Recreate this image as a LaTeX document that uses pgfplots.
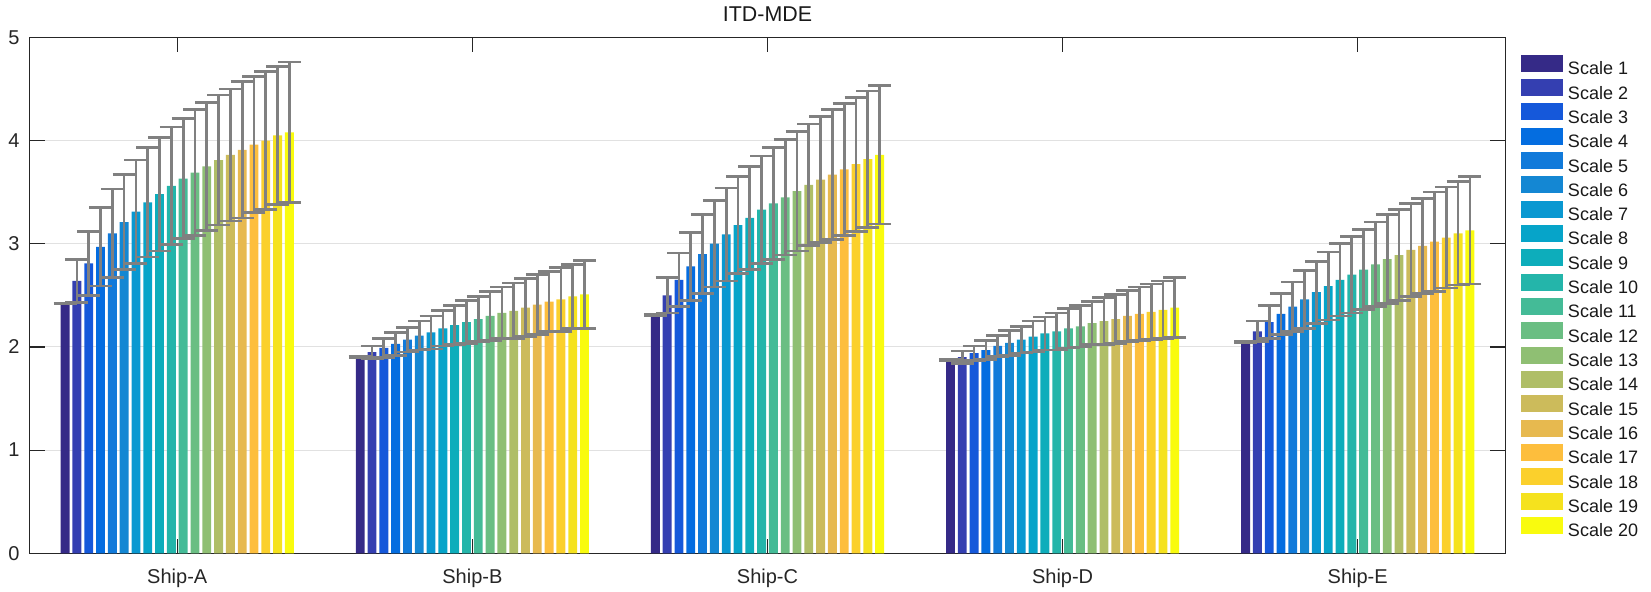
\documentclass[border=0pt]{standalone}
\usepackage{fontspec}
\setmainfont{Liberation Sans}
\usepackage{pgfplots}
\pgfplotsset{compat=1.18}
\definecolor{c1}{rgb}{0.2081,0.1663,0.5292}
\definecolor{c2}{rgb}{0.2042,0.2468,0.6931}
\definecolor{c3}{rgb}{0.0835,0.3467,0.8543}
\definecolor{c4}{rgb}{0.0159,0.4256,0.8788}
\definecolor{c5}{rgb}{0.0654,0.4776,0.8531}
\definecolor{c6}{rgb}{0.0768,0.5301,0.8284}
\definecolor{c7}{rgb}{0.0358,0.5946,0.8202}
\definecolor{c8}{rgb}{0.0230,0.6443,0.7882}
\definecolor{c9}{rgb}{0.0492,0.6793,0.7340}
\definecolor{c10}{rgb}{0.1402,0.7085,0.6680}
\definecolor{c11}{rgb}{0.2655,0.7326,0.5916}
\definecolor{c12}{rgb}{0.4174,0.7469,0.5144}
\definecolor{c13}{rgb}{0.5623,0.7486,0.4529}
\definecolor{c14}{rgb}{0.6871,0.7432,0.4029}
\definecolor{c15}{rgb}{0.7996,0.7344,0.3576}
\definecolor{c16}{rgb}{0.9056,0.7262,0.3104}
\definecolor{c17}{rgb}{0.9941,0.7465,0.2390}
\definecolor{c18}{rgb}{0.9847,0.8141,0.1735}
\definecolor{c19}{rgb}{0.9601,0.8872,0.1188}
\definecolor{c20}{rgb}{0.9763,0.9831,0.0538}
\definecolor{errc}{RGB}{128,128,128}
\definecolor{axc}{RGB}{38,38,38}
\definecolor{gridc}{RGB}{225,225,225}
\pgfplotsset{
  errstyle/.style={forget plot, draw=none, fill=none, mark=none,
    error bars/.cd, y dir=both, y explicit,
    error bar style={draw=errc, line width=1.35pt},
    error mark options={draw=errc, rotate=90, line width=1.35pt, mark size=5.75pt}},
}
\begin{document}
\begin{tikzpicture}
\begin{axis}[
  at={(0,0)}, anchor=south west,
  scale only axis, width=737.8pt, height=258pt,
  ybar, bar width=0.03, bar shift=0pt,
  xmin=0.5, xmax=5.5, ymin=0, ymax=5,
  xtick={1,2,3,4,5}, xticklabels={Ship-A,Ship-B,Ship-C,Ship-D,Ship-E},
  ytick={0,1,2,3,4,5},
  xtick pos=both, ytick pos=both,
  xticklabel pos=lower, yticklabel pos=left,
  tick align=inside, major tick length=7.4pt,
  tick style={line width=0.6pt, color=axc},
  axis line style={line width=0.6pt, color=axc},
  ymajorgrids, grid style={line width=0.5pt, color=gridc},
  /pgf/number format/assume math mode=true,
  tick label style={font=\fontsize{10}{12}\selectfont, text=axc},
  xticklabel style={anchor=base, yshift=-15pt, inner sep=0pt},
  yticklabel style={anchor=east, inner sep=0pt, xshift=-4.85pt},
  title={ITD-MDE},
  title style={at={(0.5,1)}, anchor=base, yshift=2pt, inner sep=0pt,
    font=\fontsize{10.7}{13}\selectfont, text=black!90},
  legend image code/.code={\fill[#1] (0pt,-1.05pt) rectangle (21pt,7.45pt);},
  legend cell align=left,
  legend style={at={(1,1)}, anchor=north west, xshift=7.85pt, yshift=-8.75pt,
    draw=none, fill=none, inner sep=0pt, outer sep=0pt,
    font=\fontsize{9}{10.8}\selectfont, text=black!90,
    row sep=0.7pt, column sep=2.5pt, nodes={inner sep=0pt}},
]
\addplot[fill=c1, draw=none, bar shift=0pt] coordinates {(0.62,2.42) (1.62,1.90) (2.62,2.31) (3.62,1.87) (4.62,2.05)};
\addplot[fill=c2, draw=none, bar shift=0pt] coordinates {(0.66,2.64) (1.66,1.95) (2.66,2.50) (3.66,1.90) (4.66,2.15)};
\addplot[fill=c3, draw=none, bar shift=0pt] coordinates {(0.70,2.81) (1.70,1.99) (2.70,2.65) (3.70,1.94) (4.70,2.24)};
\addplot[fill=c4, draw=none, bar shift=0pt] coordinates {(0.74,2.97) (1.74,2.03) (2.74,2.78) (3.74,1.97) (4.74,2.32)};
\addplot[fill=c5, draw=none, bar shift=0pt] coordinates {(0.78,3.10) (1.78,2.07) (2.78,2.90) (3.78,2.01) (4.78,2.39)};
\addplot[fill=c6, draw=none, bar shift=0pt] coordinates {(0.82,3.21) (1.82,2.11) (2.82,3.00) (3.82,2.04) (4.82,2.46)};
\addplot[fill=c7, draw=none, bar shift=0pt] coordinates {(0.86,3.31) (1.86,2.14) (2.86,3.09) (3.86,2.07) (4.86,2.53)};
\addplot[fill=c8, draw=none, bar shift=0pt] coordinates {(0.90,3.40) (1.90,2.18) (2.90,3.18) (3.90,2.10) (4.90,2.59)};
\addplot[fill=c9, draw=none, bar shift=0pt] coordinates {(0.94,3.48) (1.94,2.21) (2.94,3.25) (3.94,2.13) (4.94,2.65)};
\addplot[fill=c10, draw=none, bar shift=0pt] coordinates {(0.98,3.56) (1.98,2.24) (2.98,3.33) (3.98,2.15) (4.98,2.70)};
\addplot[fill=c11, draw=none, bar shift=0pt] coordinates {(1.02,3.63) (2.02,2.27) (3.02,3.39) (4.02,2.18) (5.02,2.75)};
\addplot[fill=c12, draw=none, bar shift=0pt] coordinates {(1.06,3.69) (2.06,2.30) (3.06,3.45) (4.06,2.20) (5.06,2.80)};
\addplot[fill=c13, draw=none, bar shift=0pt] coordinates {(1.10,3.75) (2.10,2.33) (3.10,3.51) (4.10,2.23) (5.10,2.85)};
\addplot[fill=c14, draw=none, bar shift=0pt] coordinates {(1.14,3.81) (2.14,2.35) (3.14,3.57) (4.14,2.25) (5.14,2.89)};
\addplot[fill=c15, draw=none, bar shift=0pt] coordinates {(1.18,3.86) (2.18,2.38) (3.18,3.62) (4.18,2.27) (5.18,2.94)};
\addplot[fill=c16, draw=none, bar shift=0pt] coordinates {(1.22,3.91) (2.22,2.41) (3.22,3.67) (4.22,2.30) (5.22,2.98)};
\addplot[fill=c17, draw=none, bar shift=0pt] coordinates {(1.26,3.96) (2.26,2.44) (3.26,3.72) (4.26,2.32) (5.26,3.02)};
\addplot[fill=c18, draw=none, bar shift=0pt] coordinates {(1.30,4.00) (2.30,2.46) (3.30,3.77) (4.30,2.34) (5.30,3.06)};
\addplot[fill=c19, draw=none, bar shift=0pt] coordinates {(1.34,4.05) (2.34,2.49) (3.34,3.82) (4.34,2.36) (5.34,3.10)};
\addplot[fill=c20, draw=none, bar shift=0pt] coordinates {(1.38,4.08) (2.38,2.51) (3.38,3.86) (4.38,2.38) (5.38,3.13)};
\legend{Scale 1,Scale 2,Scale 3,Scale 4,Scale 5,Scale 6,Scale 7,Scale 8,Scale 9,Scale 10,Scale 11,Scale 12,Scale 13,Scale 14,Scale 15,Scale 16,Scale 17,Scale 18,Scale 19,Scale 20}
% error bars, Ship-A
\addplot[errstyle] coordinates {
 (0.62,2.42) +- (0,0.005) (0.66,2.64) +- (0,0.21) (0.70,2.81) +- (0,0.31) (0.74,2.97) +- (0,0.38)
 (0.78,3.10) +- (0,0.43) (0.82,3.21) +- (0,0.46) (0.86,3.31) +- (0,0.50) (0.90,3.40) +- (0,0.53)
 (0.94,3.48) +- (0,0.55) (0.98,3.56) +- (0,0.57) (1.02,3.63) +- (0,0.58) (1.06,3.69) +- (0,0.61)
 (1.10,3.75) +- (0,0.62) (1.14,3.81) +- (0,0.63) (1.18,3.86) +- (0,0.64) (1.22,3.91) +- (0,0.66)
 (1.26,3.96) +- (0,0.66) (1.30,4.00) +- (0,0.67) (1.34,4.05) +- (0,0.67) (1.38,4.08) +- (0,0.68)};
% Ship-B
\addplot[errstyle] coordinates {
 (1.62,1.90) +- (0,0.005) (1.66,1.95) +- (0,0.06) (1.70,1.99) +- (0,0.09) (1.74,2.03) +- (0,0.11)
 (1.78,2.07) +- (0,0.12) (1.82,2.11) +- (0,0.14) (1.86,2.14) +- (0,0.16) (1.90,2.18) +- (0,0.17)
 (1.94,2.21) +- (0,0.19) (1.98,2.24) +- (0,0.21) (2.02,2.27) +- (0,0.22) (2.06,2.30) +- (0,0.24)
 (2.10,2.33) +- (0,0.25) (2.14,2.35) +- (0,0.27) (2.18,2.38) +- (0,0.28) (2.22,2.41) +- (0,0.29)
 (2.26,2.44) +- (0,0.29) (2.30,2.46) +- (0,0.31) (2.34,2.49) +- (0,0.31) (2.38,2.51) +- (0,0.33)};
% Ship-C
\addplot[errstyle] coordinates {
 (2.62,2.31) +- (0,0.005) (2.66,2.50) +- (0,0.17) (2.70,2.65) +- (0,0.26) (2.74,2.78) +- (0,0.33)
 (2.78,2.90) +- (0,0.38) (2.82,3.00) +- (0,0.42) (2.86,3.09) +- (0,0.45) (2.90,3.18) +- (0,0.47)
 (2.94,3.25) +- (0,0.50) (2.98,3.33) +- (0,0.52) (3.02,3.39) +- (0,0.54) (3.06,3.45) +- (0,0.56)
 (3.10,3.51) +- (0,0.58) (3.14,3.57) +- (0,0.59) (3.18,3.62) +- (0,0.61) (3.22,3.67) +- (0,0.63)
 (3.26,3.72) +- (0,0.64) (3.30,3.77) +- (0,0.65) (3.34,3.82) +- (0,0.66) (3.38,3.86) +- (0,0.67)};
% Ship-D
\addplot[errstyle] coordinates {
 (3.62,1.87) +- (0,0.005) (3.66,1.90) +- (0,0.06) (3.70,1.94) +- (0,0.07) (3.74,1.97) +- (0,0.09)
 (3.78,2.01) +- (0,0.10) (3.82,2.04) +- (0,0.12) (3.86,2.07) +- (0,0.13) (3.90,2.10) +- (0,0.15)
 (3.94,2.13) +- (0,0.16) (3.98,2.15) +- (0,0.18) (4.02,2.18) +- (0,0.19) (4.06,2.20) +- (0,0.20)
 (4.10,2.23) +- (0,0.21) (4.14,2.25) +- (0,0.23) (4.18,2.27) +- (0,0.24) (4.22,2.30) +- (0,0.25)
 (4.26,2.32) +- (0,0.26) (4.30,2.34) +- (0,0.27) (4.34,2.36) +- (0,0.28) (4.38,2.38) +- (0,0.29)};
% Ship-E
\addplot[errstyle] coordinates {
 (4.62,2.05) +- (0,0.005) (4.66,2.15) +- (0,0.10) (4.70,2.24) +- (0,0.16) (4.74,2.32) +- (0,0.20)
 (4.78,2.39) +- (0,0.24) (4.82,2.46) +- (0,0.28) (4.86,2.53) +- (0,0.30) (4.90,2.59) +- (0,0.33)
 (4.94,2.65) +- (0,0.35) (4.98,2.70) +- (0,0.37) (5.02,2.75) +- (0,0.39) (5.06,2.80) +- (0,0.41)
 (5.10,2.85) +- (0,0.43) (5.14,2.89) +- (0,0.44) (5.18,2.94) +- (0,0.45) (5.22,2.98) +- (0,0.46)
 (5.26,3.02) +- (0,0.48) (5.30,3.06) +- (0,0.49) (5.34,3.10) +- (0,0.50) (5.38,3.13) +- (0,0.52)};
\end{axis}
\pgfresetboundingbox
\path[use as bounding box] (-14.85pt,-18.85pt) rectangle (810.65pt,276.65pt);
\end{tikzpicture}
\end{document}
